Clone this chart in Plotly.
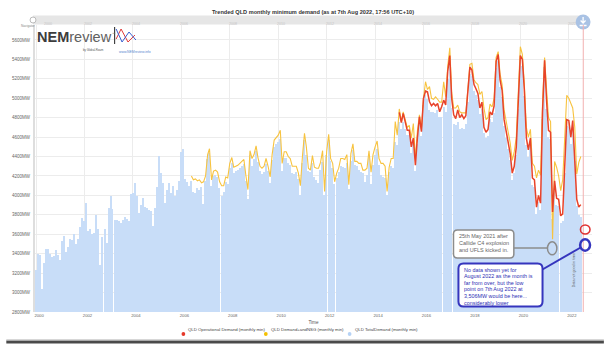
import plotly.graph_objects as go
import pandas as pd

# ---------------- data ----------------
months = pd.date_range("2000-01-01", periods=271, freq="MS")

total_demand = [
    3232, 3394, 3390, 3037, 3300, 3445, 3445, 3394, 3363, 3375, 3440, 3390,  # 2000
    3335, 3530, 3585, 3420, 3465, 3555, 3540, 3600, 3497, 3550, 3671, 3767,  # 2001
    3736, 3918, 3633, 3650, 3600, 3610, 3795, 3650, 3284, 3568, 3657, 3510,  # 2002
    3874, 3994, 3860, 3750, 3745, 3740, 3715, 3745, 3775, 3760, 3735, 4010,  # 2003
    4020, 4130, 3990, 3815, 3900, 3970, 3885, 3870, 3855, 3840, 3690, 3870,  # 2004
    4090, 4405, 4235, 4130, 3925, 4055, 4130, 4020, 4100, 3990, 4060, 4150,  # 2005
    4445, 4475, 4165, 4140, 4100, 4150, 4040, 4030, 4080, 4060, 4090, 3910,  # 2006
    4150, 4370, 4440, 4100, 4200, 4210, 4190, 4080, 3990, 4040, 4140, 4120,  # 2007
    4280, 4330, 4230, 4250, 4260, 4280, 4300, 4320, 4150, 3960, 4420, 4300,  # 2008
    4370, 4460, 4340, 4250, 4220, 4240, 4320, 4250, 4130, 4360, 4500, 4530,  # 2009
    4550, 4580, 4250, 4390, 4390, 4330, 4310, 4230, 4220, 4240, 4170, 4000,  # 2010
    4330, 4570, 4420, 4250, 4240, 4330, 4190, 4160, 4130, 4260, 4340, 4000,  # 2011
    4420, 4570, 4350, 4280, 4120, 4180, 4240, 4300, 4290, 4280, 4330, 4070,  # 2012
    4350, 4470, 4310, 4300, 4260, 4240, 4230, 4140, 4210, 4400, 4120, 4310,  # 2013
    4420, 4480, 4310, 4210, 4190, 4180, 4000, 4240, 4300, 4280, 4550, 4520,  # 2014
    4760, 4680, 4760, 4680, 4620, 4620, 4440, 4530, 4250, 4530, 4750, 4610,  # 2015
    4930, 5030, 4990, 4880, 4860, 4860, 4850, 4880, 4810, 4810, 4910, 4860,  # 2016
    5200, 5380, 4900, 4740, 4720, 4760, 4680, 4690, 4680, 4740, 4960, 5250,  # 2017
    5230, 5070, 5030, 4980, 4840, 4890, 4640, 4590, 4610, 4790, 4760, 4850,  # 2018
    5310, 5380, 5120, 5010, 4710, 4590, 4480, 4360, 4160, 4230, 4420, 4890,  # 2019
    5370, 5330, 5020, 4520, 4400, 4510, 4110, 4090, 3810, 3930, 3850, 4790,  # 2020
    5320, 4890, 4600, 4580, 3760, 4080, 3900, 3890, 3720, 3740, 4230, 4710,  # 2021
    4700, 4530, 4700, 4350, 3890, 3800, 3780,                                # 2022
]

demand_nsg_start = "2006-06-01"
demand_nsg = [
    4200, 4160, 4170, 4150, 4160, 4130, 4140,                                # 2006
    4200, 4420, 4480, 4160, 4250, 4260, 4240, 4140, 4100, 4100, 4190, 4180,  # 2007
    4330, 4390, 4290, 4300, 4310, 4330, 4350, 4370, 4200, 4060, 4460, 4380,  # 2008
    4420, 4510, 4390, 4300, 4280, 4300, 4380, 4300, 4190, 4420, 4570, 4600,  # 2009
    4620, 4670, 4330, 4450, 4450, 4400, 4380, 4300, 4300, 4300, 4230, 4100,  # 2010
    4400, 4640, 4500, 4280, 4260, 4410, 4290, 4280, 4280, 4340, 4460, 4040,  # 2011
    4450, 4630, 4380, 4330, 4140, 4230, 4280, 4380, 4380, 4370, 4420, 4110,  # 2012
    4430, 4530, 4350, 4350, 4330, 4330, 4260, 4260, 4280, 4460, 4240, 4420,  # 2013
    4500, 4560, 4380, 4330, 4330, 4300, 4040, 4290, 4380, 4380, 4760, 4620,  # 2014
    4890, 4760, 4860, 4790, 4700, 4720, 4590, 4740, 4380, 4660, 4830, 4680,  # 2015
    5000, 5170, 5090, 5120, 5000, 4990, 5015, 4990, 4960, 4960, 5170, 5015,  # 2016
    5330, 5520, 5060, 4900, 4900, 4930, 4860, 4850, 4850, 4850, 5100, 5350,  # 2017
    5360, 5190, 5160, 5140, 5040, 5070, 4900, 4780, 4800, 4940, 4910, 5000,  # 2018
    5420, 5480, 5250, 5140, 4880, 4760, 4650, 4540, 4360, 4450, 4600, 5050,  # 2019
    5530, 5450, 5150, 4700, 4600, 4680, 4330, 4300, 4180, 4260, 4210, 4950,  # 2020
    5420, 5080, 4800, 4760, 3550, 4350, 4290, 4200, 4050, 4160, 4700, 5030,  # 2021
    5000, 4950, 4900, 4700, 4220, 4340, 4400,                                # 2022
]

operational_start = "2015-01-01"
operational = [
    4855, 4750, 4845, 4765, 4670, 4670, 4500, 4590, 4310, 4590, 4810, 4655,  # 2015
    4999, 5074, 5067, 4964, 4923, 4947, 4923, 4947, 4861, 4912, 4981, 4930,  # 2016
    5280, 5440, 5000, 4830, 4790, 4880, 4800, 4830, 4790, 4820, 5040, 5320,  # 2017
    5290, 5140, 5100, 5050, 4900, 4960, 4700, 4650, 4680, 4860, 4830, 4920,  # 2018
    5380, 5450, 5190, 5080, 4780, 4660, 4550, 4430, 4230, 4300, 4500, 4960,  # 2019
    5440, 5400, 5090, 4590, 4470, 4590, 4180, 4160, 3880, 4000, 3920, 4860,  # 2020
    5390, 4960, 4670, 4650, 3830, 4150, 3970, 3960, 3790, 3810, 4300, 4780,  # 2021
    4770, 4600, 4770, 4420, 3960, 3880, 3905,                                # 2022
]

series_names = ["QLD Operational Demand (monthly min)",
                "QLD Demand+andNSG (monthly min)",
                "QLD TotalDemand (monthly min)"]
year_ticks = list(range(2000, 2023, 2))
mw_ticks = list(range(2800, 5601, 200))

callide_lines = ["25th May 2021 after", "Callide C4 explosion", "and UFLS kicked in."]
august_lines = ["No data shown yet for", "August 2022 as the month is", "far from over, but the low",
                "point on 7th Aug 2022 at", "3,506MW would be here...", "considerably lower"]

nsg_months = pd.date_range(demand_nsg_start, periods=len(demand_nsg), freq="MS")
op_months = pd.date_range(operational_start, periods=len(operational), freq="MS")

RED = "#e8432a"
YEL = "#f7c340"
BLUE = "#c8ddf8"

# ---------------- geometry helpers ----------------
W, H = 604, 345
L, R, T, B = 29, 12, 25, 33
PW, PH = W - L - R, H - T - B


def X(x):
    return (x - L) / PW


def Y(y):
    return 1 - (y - T) / PH


def rrect(x0, y0, x1, y1, r):
    rx, ry = r / PW, r / PH
    a, b, c, d = X(x0), X(x1), Y(y0), Y(y1)
    return (f"M {a+rx},{c} L {b-rx},{c} Q {b},{c} {b},{c-ry} L {b},{d+ry} "
            f"Q {b},{d} {b-rx},{d} L {a+rx},{d} Q {a},{d} {a},{d+ry} "
            f"L {a},{c-ry} Q {a},{c} {a+rx},{c} Z")


fig = go.Figure()
fig.add_trace(go.Bar(
    x=months, y=total_demand, name=series_names[2],
    marker=dict(color=BLUE, line_width=0),
    width=0.66 * 30.44 * 86400000, showlegend=False))
fig.add_trace(go.Scatter(
    x=nsg_months, y=demand_nsg, name=series_names[1], mode="lines",
    line=dict(color=YEL, width=1.1), showlegend=False))
fig.add_trace(go.Scatter(
    x=op_months, y=operational, name=series_names[0], mode="lines",
    line=dict(color=RED, width=1.5), showlegend=False))

shapes = []
annotations = []
FONT = "Liberation Sans"

# navigator band at the top
shapes.append(dict(type="rect", xref="paper", yref="paper", x0=X(27), x1=X(583),
                   y0=Y(24.5), y1=Y(15.5), fillcolor="#e6e6e6", line_width=0, layer="below"))
shapes.append(dict(type="circle", xref="paper", yref="paper", x0=X(24), x1=X(30),
                   y0=Y(23), y1=Y(17), fillcolor="white", line=dict(color="#bbbbbb", width=1)))
for yr in year_ticks[1:]:
    annotations.append(dict(x=f"{yr}-01-01", y=Y(20), xref="x", yref="paper", text=str(yr),
                            showarrow=False, xshift=3, font=dict(size=3.6, color="#c4c4c4", family=FONT)))
annotations.append(dict(x=X(36), y=Y(20), xref="paper", yref="paper", text="2000",
                        showarrow=False, font=dict(size=3.6, color="#c4c4c4", family=FONT)))
annotations.append(dict(x=X(13), y=Y(22.5), xref="paper", yref="paper", text="Navigator",
                        showarrow=False, font=dict(size=3.2, color="#888", family=FONT)))

# download button
shapes.append(dict(type="circle", xref="paper", yref="paper", x0=X(575.5), x1=X(590.5),
                   y0=Y(29.5), y1=Y(14.5), fillcolor="#a9c2e4", line_width=0))
shapes.append(dict(type="path", xref="paper", yref="paper",
                   path=f"M {X(583)},{Y(17)} L {X(583)},{Y(23)} M {X(580.5)},{Y(20.5)} L {X(583)},{Y(23)} L {X(585.5)},{Y(20.5)} M {X(579.5)},{Y(25.5)} L {X(586.5)},{Y(25.5)}",
                   line=dict(color="white", width=1.3)))

# "now" vertical line
shapes.append(dict(type="line", xref="x", yref="paper", x0="2022-08-07", x1="2022-08-07",
                   y0=0, y1=1, line=dict(color="#f2b0b0", width=1)))
annotations.append(dict(x=X(578), y=Y(289), xref="paper", yref="paper", text="Data not good in time",
                        textangle=-90, showarrow=False, font=dict(size=3.6, color="#555", family=FONT)))

# logo
annotations.append(dict(x=X(29), y=Y(37), xref="paper", yref="paper", xanchor="left", yanchor="middle",
                        text="<b>NEM</b><span style='color:#606060'>review</span>", showarrow=False,
                        font=dict(size=14.5, color="#3c3c3c", family=FONT)))
annotations.append(dict(x=X(104.5), y=Y(30.5), xref="paper", yref="paper", text="™", showarrow=False,
                        font=dict(size=3.5, color="#666", family=FONT)))
annotations.append(dict(x=X(101), y=Y(46.5), xref="paper", yref="paper", xanchor="right",
                        text="by Global-Roam", showarrow=False, font=dict(size=2.8, color="#555", family=FONT)))
annotations.append(dict(x=X(112), y=Y(48), xref="paper", yref="paper",
                        text="www.NEMreview.info", showarrow=False, font=dict(size=3.4, color="#5a87cf", family=FONT)))
shapes.append(dict(type="line", xref="paper", yref="paper", x0=X(109.5), x1=X(109.5), y0=Y(27), y1=Y(44),
                   line=dict(color="#222", width=1)))
shapes.append(dict(type="path", xref="paper", yref="paper",
                   path=f"M {X(111)},{Y(39)} L {X(116)},{Y(29)} L {X(123)},{Y(42)} L {X(130)},{Y(35)}",
                   line=dict(color="#e03a3a", width=1)))
shapes.append(dict(type="path", xref="paper", yref="paper",
                   path=f"M {X(111)},{Y(29)} L {X(117)},{Y(42)} L {X(124)},{Y(32)} L {X(131)},{Y(40)}",
                   line=dict(color="#3a5fd0", width=1)))

# title
annotations.append(dict(x=X(310), y=Y(6.5), xref="paper", yref="paper",
                        text="<b>Trended QLD monthly minimum demand (as at 7th Aug 2022, 17:56 UTC+10)</b>",
                        showarrow=False, font=dict(size=5.6, color="#333", family=FONT)))

# grey callout (Callide)
GREY = "#8c8c8c"
shapes.append(dict(type="line", xref="paper", yref="paper", x0=X(513), x1=X(547), y0=Y(248), y1=Y(248),
                   line=dict(color=GREY, width=1.5)))
shapes.append(dict(type="path", xref="paper", yref="paper", path=rrect(452, 230, 513, 258, 4),
                   fillcolor="white", line=dict(color=GREY, width=1.5)))
shapes.append(dict(type="circle", xref="paper", yref="paper", x0=X(547), x1=X(556.5), y0=Y(254.8), y1=Y(241.8),
                   line=dict(color=GREY, width=1.5)))
for i, line in enumerate(callide_lines):
    annotations.append(dict(x=X(455.5), y=Y(235.5 + 7.3 * i), xref="paper", yref="paper", xanchor="left",
                            yanchor="middle", showarrow=False, text=line,
                            font=dict(size=5.5, color="#666", family=FONT)))

# blue callout (August 2022)
BL = "#3535bd"
shapes.append(dict(type="line", xref="paper", yref="paper", x0=X(541), x1=X(580.5), y0=Y(270), y1=Y(247.5),
                   line=dict(color=BL, width=2)))
shapes.append(dict(type="path", xref="paper", yref="paper", path=rrect(457, 263.5, 542, 306.5, 5),
                   fillcolor="white", line=dict(color=BL, width=2)))
shapes.append(dict(type="circle", xref="paper", yref="paper", x0=X(580), x1=X(590), y0=Y(250.7), y1=Y(239.3),
                   line=dict(color=BL, width=2.5)))
shapes.append(dict(type="circle", xref="paper", yref="paper", x0=X(580.3), x1=X(590), y0=Y(234), y1=Y(225),
                   line=dict(color="#e03030", width=1.5)))
for i, line in enumerate(august_lines):
    annotations.append(dict(x=X(460.5), y=Y(269.5 + 6.6 * i), xref="paper", yref="paper", xanchor="left",
                            yanchor="middle", showarrow=False, text=line,
                            font=dict(size=5.4, color="#2f2fb5", family=FONT)))

# custom legend
leg = [(179, series_names[0], "#e5392a"), (262.3, series_names[1], "#f4c000"), (347, series_names[2], "#b6d2f5")]
for lx, name, col in leg:
    shapes.append(dict(type="circle", xref="paper", yref="paper", x0=X(lx - 1.9), x1=X(lx + 1.9),
                       y0=Y(335.9), y1=Y(332.1), fillcolor=col, line_width=0))
    annotations.append(dict(x=X(lx + 3), y=Y(334), xref="paper", yref="paper", xanchor="left",
                            text=name, showarrow=False, font=dict(size=4.3, color="#444", family=FONT)))

# screenshot frame shadow at the bottom
shapes.append(dict(type="rect", xref="paper", yref="paper", x0=X(0), x1=X(604), y0=Y(343.5), y1=Y(340.5),
                   fillcolor="#4a4a4a", line_width=0))
shapes.append(dict(type="rect", xref="paper", yref="paper", x0=X(0), x1=X(604), y0=Y(340.5), y1=Y(339.5),
                   fillcolor="#b0b0b0", line_width=0))

fig.update_layout(
    width=W, height=H,
    margin=dict(l=L, r=R, t=T, b=B, pad=0),
    paper_bgcolor="white", plot_bgcolor="white",
    bargap=0, showlegend=False,
    shapes=shapes, annotations=annotations,
    font=dict(family=FONT, color="#555"),
    xaxis=dict(type="date", range=["1999-12-16", "2022-12-17"],
               tickvals=[f"{y}-01-01" for y in year_ticks], ticktext=[str(y) for y in year_ticks],
               tickfont=dict(size=4.2, color="#666", family=FONT), ticklabelshift=3,
               showgrid=True, gridcolor="#ececec", gridwidth=1, zeroline=False, showline=False, ticks="",
               title=dict(text="Time", font=dict(size=4.6, color="#555", family=FONT), standoff=3)),
    yaxis=dict(range=[2800, 5754], tickvals=mw_ticks, ticktext=[f"{v}MW" for v in mw_ticks],
               tickfont=dict(size=4.5, color="#666", family=FONT), ticklabelstandoff=2,
               showgrid=True, gridcolor="#ececec", gridwidth=1, zeroline=False,
               showline=True, linecolor="#dedede", linewidth=2, ticks=""),
)

fig.write_html("out.html")
